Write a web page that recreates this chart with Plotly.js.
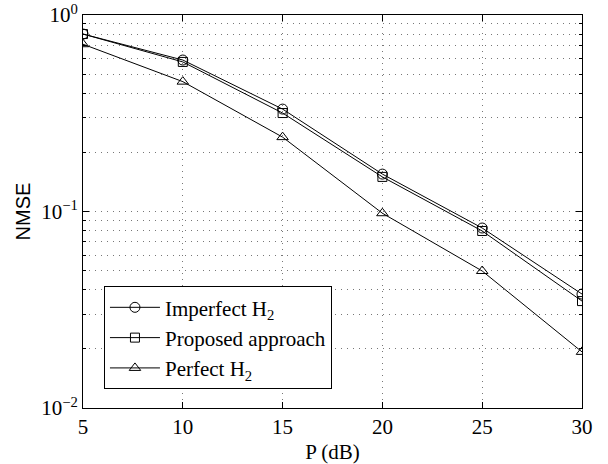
<!DOCTYPE html>
<html>
<head>
<meta charset="utf-8">
<script src="https://cdn.plot.ly/plotly-3.0.1.min.js"></script>
<style>html,body{margin:0;padding:0;background:#fff;}#chart{width:608px;height:464px;}</style>
</head>
<body>
<div id="chart"></div>
<script>
const P_dB = [5, 10, 15, 20, 25, 30];
const imperfectH2 = [0.80, 0.59, 0.332, 0.155, 0.0824, 0.038];
const proposed = [0.80, 0.577, 0.317, 0.150, 0.0796, 0.035];
const perfectH2 = [0.71, 0.458, 0.239, 0.098, 0.0498, 0.0193];
const seriesNames = ["Imperfect H<sub>2</sub>", "Proposed approach", "Perfect H<sub>2</sub>"];
const xTicks = [5, 10, 15, 20, 25, 30];
const yMajorVals = [0.01, 0.1, 1];
const yMajorText = ["10<sup>−2</sup>", "10<sup>−1</sup>", "10<sup>0</sup>"];

const serif = 'Liberation Serif';
const sans = 'Liberation Sans';
const mk = (y, name, sym, sz) => ({
  x: P_dB, y: y, name: name, type: 'scatter', mode: 'lines+markers',
  line: {color: '#000', width: 1},
  marker: {symbol: sym, size: sz, color: '#000', line: {color: '#000', width: 1}}
});
const data = [
  mk(imperfectH2, seriesNames[0], 'circle-open', 10),
  mk(proposed, seriesNames[1], 'square-open', 9),
  mk(perfectH2, seriesNames[2], 'triangle-up-open', 10)
];
const gridDash = '1px,5px';
const layout = {
  width: 608, height: 464,
  margin: {l: 83, r: 26, t: 15, b: 56},
  paper_bgcolor: '#fff', plot_bgcolor: '#fff',
  showlegend: true,
  font: {family: serif, size: 21, color: '#000'},
  xaxis: {
    range: [5, 30], tickmode: 'array', tickvals: xTicks, ticks: 'inside', ticklen: 6, tickcolor: '#000',
    showline: true, linecolor: '#000', linewidth: 1, mirror: 'ticks',
    showgrid: true, gridcolor: '#777', griddash: gridDash, gridwidth: 1, zeroline: false,
    tickfont: {family: serif, size: 21},
    title: {text: 'P (dB)', font: {family: serif, size: 21}, standoff: 7}
  },
  yaxis: {
    type: 'log', range: [-2, 0], tickmode: 'array', tickvals: yMajorVals, ticktext: yMajorText,
    ticks: 'inside', ticklen: 6, tickcolor: '#000',
    showline: true, linecolor: '#000', linewidth: 1, mirror: 'ticks',
    showgrid: true, gridcolor: '#777', griddash: gridDash, gridwidth: 1, zeroline: false,
    tickfont: {family: serif, size: 21},
    minor: {dtick: 'D1', showgrid: true, gridcolor: '#777', griddash: gridDash, gridwidth: 1,
            ticks: 'inside', ticklen: 3, tickcolor: '#000'},
    title: {text: 'NMSE', font: {family: sans, size: 20}, standoff: 5}
  },
  legend: {
    x: 0.042, y: 0.31, xanchor: 'left', yanchor: 'top',
    bgcolor: '#fff', bordercolor: '#000', borderwidth: 1,
    font: {family: serif, size: 21}, itemwidth: 50, tracegroupgap: 0,
    entrywidth: 200, entrywidthmode: 'pixels'
  }
};
Plotly.newPlot('chart', data, layout, {displayModeBar: false, staticPlot: true});
</script>
</body>
</html>
